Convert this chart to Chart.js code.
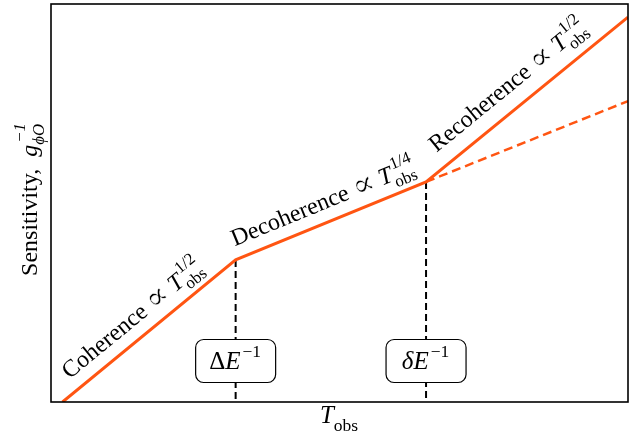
<!DOCTYPE html>
<html>
<head>
<meta charset="utf-8">
<script src="https://cdn.jsdelivr.net/npm/chart.js@4"></script>
<style>
  body { margin: 0; background: #fff; }
  #wrap { width: 642px; height: 440px; }
</style>
</head>
<body>
<div id="wrap"><canvas id="myChart" width="642" height="440"></canvas></div>
<script>
// log T_obs (arbitrary units): start, the two crossovers, right edge
const tObs = [0.02, 0.32, 0.65, 1.0];
const sensitivity = [0.0, 0.357, 0.553, 0.967];
// decoherence slope carried on past the second crossover
const extrapT = [0.65, 1.0];
const extrapSens = [0.553, 0.756];
// crossover times and their box labels (symbol, letter, exponent)
const crossoverT = [0.32, 0.65];
const crossoverLabels = [['Δ', 'E', '−1'], ['δ', 'E', '−1']];
// one label per segment of the line: name and power of T_obs
const regimeNames = ['Coherence', 'Decoherence', 'Recoherence'];
const regimePowers = ['1/2', '1/4', '1/2'];

const ORANGE = '#ff5512';
const FONT = '"Liberation Serif", "DejaVu Serif", serif';

// draw a row of tokens centred on (0,0) baseline; tokens are {t, it, k, dy, thin} or {sub, sup, it}
function drawRich(ctx, tokens, size) {
    const small = size * 0.7;
    const fontFor = (tok, s) => (tok.it ? 'italic ' : '') + s + 'px ' + FONT;
    const widthOf = (tok) => {
        if (tok.t !== undefined) {
            ctx.font = fontFor(tok, size * (tok.k || 1));
            return ctx.measureText(tok.t).width;
        }
        ctx.font = fontFor(tok, small);
        const a = tok.sub ? ctx.measureText(tok.sub).width : 0;
        const b = tok.sup ? ctx.measureText(tok.sup).width + 2 : 0;
        return Math.max(a, b) + 1;
    };
    let total = 0;
    tokens.forEach(tok => total += widthOf(tok));
    let x = -total / 2;
    ctx.textAlign = 'left';
    ctx.textBaseline = 'alphabetic';
    tokens.forEach(tok => {
        const w = widthOf(tok);
        if (tok.t !== undefined) {
            ctx.font = fontFor(tok, size * (tok.k || 1));
            ctx.fillText(tok.t, x, tok.dy || 0);
            if (tok.thin) {
                // the fallback glyph is heavy, shave its edges a little
                ctx.save();
                ctx.strokeStyle = '#fff';
                ctx.lineWidth = tok.thin;
                ctx.strokeText(tok.t, x, tok.dy || 0);
                ctx.restore();
            }
        } else {
            ctx.font = fontFor(tok, small);
            if (tok.sub) ctx.fillText(tok.sub, x, size * 0.3);
            if (tok.sup) ctx.fillText(tok.sup, x + 2, -size * 0.48);
        }
        x += w;
    });
}

const annotations = {
    id: 'annotations',
    beforeDatasetsDraw(chart) {
        const ctx = chart.ctx;
        const xs = chart.scales.x, ys = chart.scales.y;
        const ca = chart.chartArea;
        ctx.save();
        ctx.strokeStyle = '#000';
        ctx.lineWidth = 2;
        ctx.setLineDash([7, 4]);
        crossoverT.forEach(t => {
            const i = tObs.indexOf(t);
            const px = xs.getPixelForValue(t);
            ctx.beginPath();
            ctx.moveTo(px, ys.getPixelForValue(sensitivity[i]));
            ctx.lineTo(px, ca.bottom);
            ctx.stroke();
        });
        ctx.restore();
    },
    afterDraw(chart) {
        const ctx = chart.ctx;
        const xs = chart.scales.x, ys = chart.scales.y;
        const ca = chart.chartArea;
        ctx.save();
        ctx.fillStyle = '#000';

        // boxes at the crossovers
        crossoverT.forEach((t, k) => {
            const px = xs.getPixelForValue(t);
            const bw = 80, bh = 43, cy = ca.bottom - 41;
            ctx.beginPath();
            ctx.roundRect(px - bw / 2, cy - bh / 2, bw, bh, 8);
            ctx.fillStyle = '#fff';
            ctx.fill();
            ctx.lineWidth = 1.2;
            ctx.strokeStyle = '#000';
            ctx.stroke();
            ctx.fillStyle = '#000';
            const lab = crossoverLabels[k];
            ctx.save();
            ctx.translate(px, cy + 8);
            drawRich(ctx, [{ t: lab[0], it: k === 1 }, { t: lab[1], it: true }, { sup: lab[2] }], 25);
            ctx.restore();
        });

        // regime labels along each segment
        const shifts = [-5, 0, -6];
        const offs = [13, 13, 16];
        regimeNames.forEach((name, i) => {
            const x0 = xs.getPixelForValue(tObs[i]), y0 = ys.getPixelForValue(sensitivity[i]);
            const x1 = xs.getPixelForValue(tObs[i + 1]), y1 = ys.getPixelForValue(sensitivity[i + 1]);
            const len = Math.hypot(x1 - x0, y1 - y0);
            const ux = (x1 - x0) / len, uy = (y1 - y0) / len;
            const cx = (x0 + x1) / 2 + ux * shifts[i] + uy * offs[i];
            const cy = (y0 + y1) / 2 + uy * shifts[i] - ux * offs[i];
            ctx.save();
            ctx.translate(cx, cy);
            ctx.rotate(Math.atan2(y1 - y0, x1 - x0));
            drawRich(ctx, [{ t: name + ' ' }, { t: '∝', k: 1.35, dy: 2, thin: 0.6 }, { t: ' ' },
                { t: 'T', it: true }, { sub: 'obs', sup: regimePowers[i] }], 24);
            ctx.restore();
        });

        // axis titles
        ctx.save();
        ctx.translate((ca.left + ca.right) / 2, 423);
        drawRich(ctx, [{ t: 'T', it: true }, { sub: 'obs' }], 25);
        ctx.restore();

        ctx.save();
        ctx.translate(37, 199);
        ctx.rotate(-Math.PI / 2);
        drawRich(ctx, [{ t: 'Sensitivity,  ' }, { t: 'g', it: true }, { sub: 'ϕO', sup: '−1', it: true }], 24);
        ctx.restore();

        // frame
        ctx.strokeStyle = '#000';
        ctx.lineWidth = 1.6;
        ctx.strokeRect(ca.left, ca.top, ca.right - ca.left, ca.bottom - ca.top);
        ctx.restore();
    }
};

const ctx = document.getElementById('myChart').getContext('2d');
const myChart = new Chart(ctx, {
    type: 'line',
    data: {
        datasets: [{
            data: tObs.map((t, i) => ({ x: t, y: sensitivity[i] })),
            borderColor: ORANGE,
            borderWidth: 3,
            pointRadius: 0,
            tension: 0
        }, {
            data: extrapT.map((t, i) => ({ x: t, y: extrapSens[i] })),
            borderColor: ORANGE,
            borderWidth: 2.5,
            borderDash: [9, 5],
            pointRadius: 0,
            tension: 0
        }]
    },
    options: {
        responsive: false,
        animation: false,
        layout: { padding: { left: 51, top: 4, right: 14, bottom: 38 } },
        plugins: { legend: { display: false }, tooltip: { enabled: false } },
        scales: {
            x: { type: 'linear', min: 0, max: 1, display: false },
            y: { type: 'linear', min: 0, max: 1, display: false }
        }
    },
    plugins: [annotations]
});
</script>
</body>
</html>
